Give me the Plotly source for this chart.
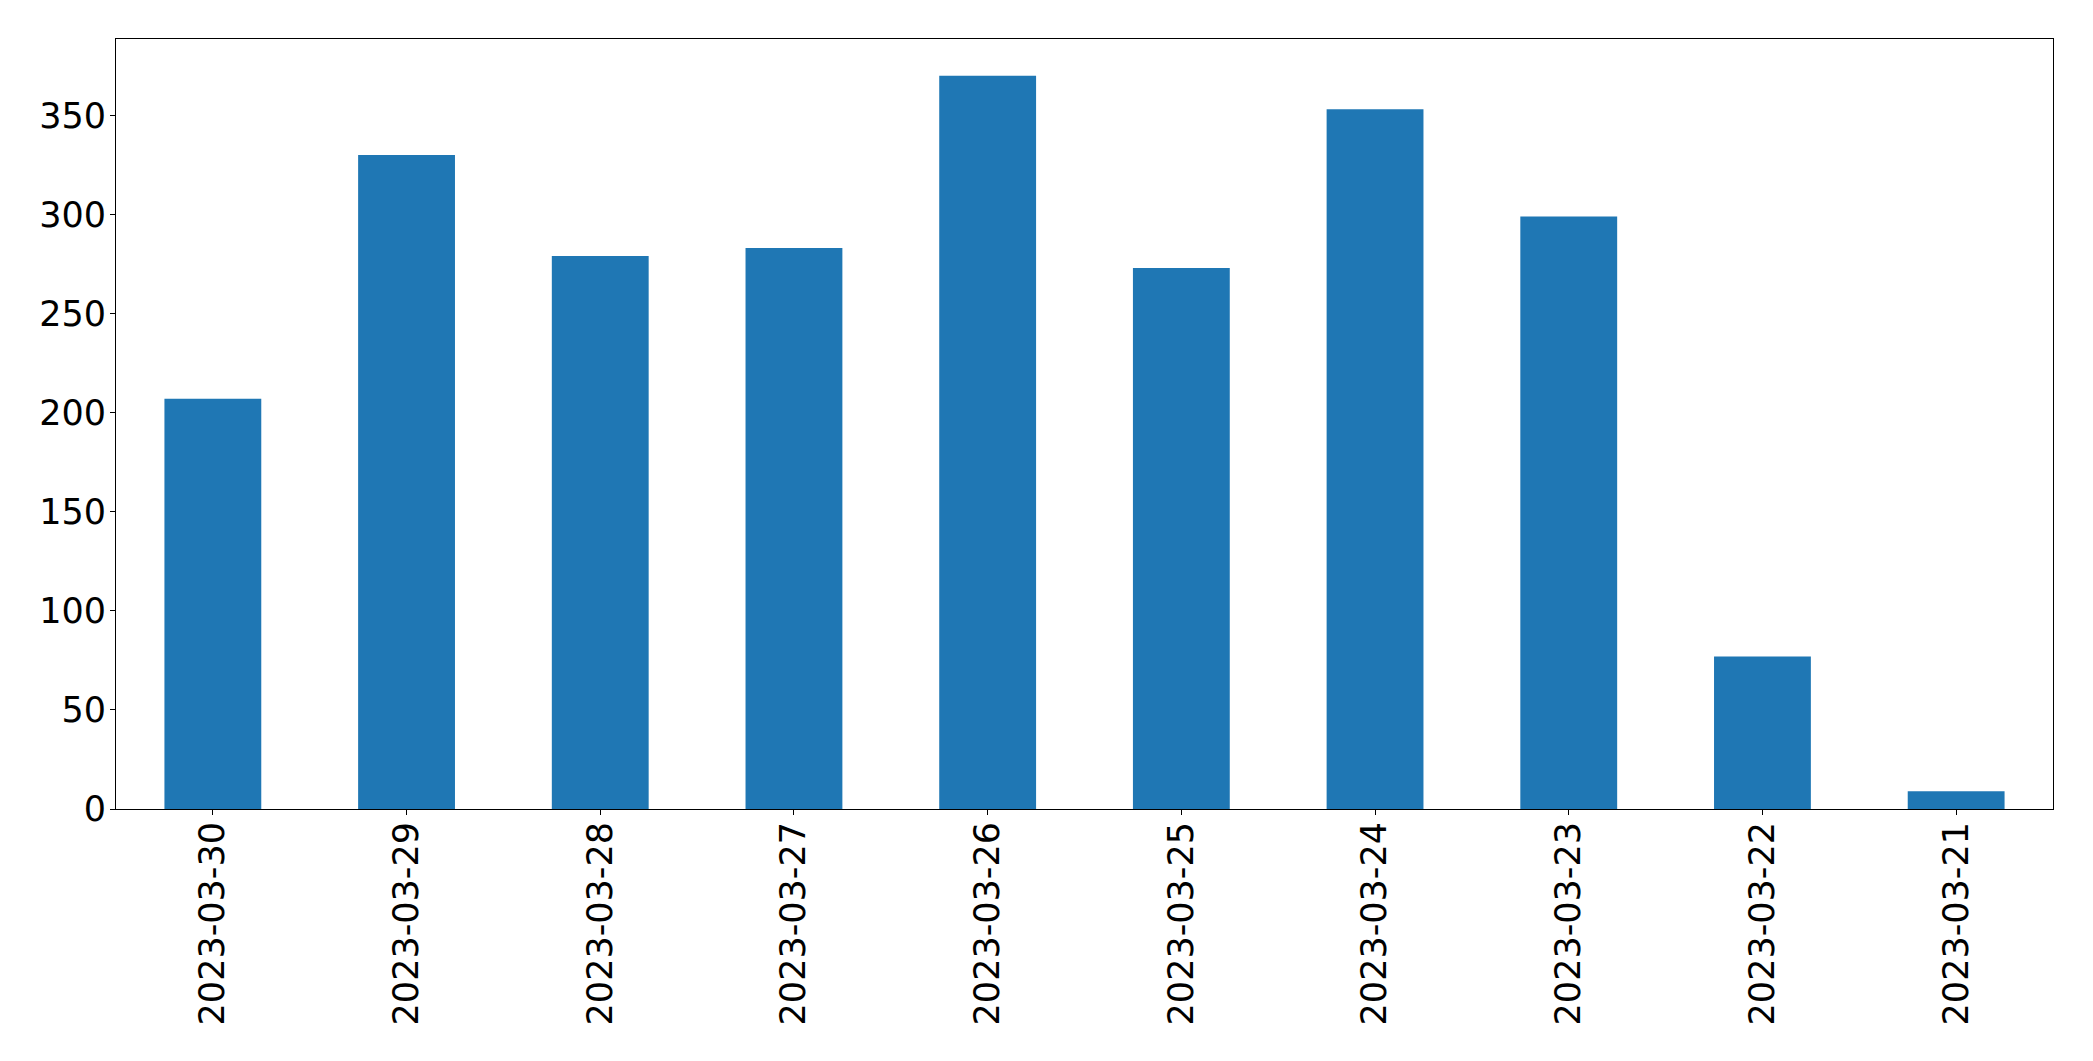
import plotly.graph_objects as go

dates = ["2023-03-30", "2023-03-29", "2023-03-28", "2023-03-27", "2023-03-26",
         "2023-03-25", "2023-03-24", "2023-03-23", "2023-03-22", "2023-03-21"]
counts = [207, 330, 279, 283, 370, 273, 353, 299, 77, 9]
y_ticks = [0, 50, 100, 150, 200, 250, 300, 350]

fig = go.Figure(go.Bar(x=dates, y=counts, width=0.5, marker=dict(color="#1f77b4", line=dict(width=0))))

font = dict(family="DejaVu Sans", size=35, color="black")
fig.update_layout(
    width=2085, height=1053,
    margin=dict(l=108, r=40, t=31, b=252, pad=0),
    paper_bgcolor="white", plot_bgcolor="white",
    showlegend=False,
    font=font,
)
fig.update_xaxes(
    type="category", range=[-0.5, len(dates) - 0.5],
    tickangle=-90, ticks="outside", ticklen=5, tickcolor="black", tickwidth=1,
    showline=True, linecolor="black", linewidth=1, mirror=True,
    showgrid=False, zeroline=False, tickfont=font, ticklabelstandoff=-7,
)
fig.update_yaxes(
    range=[0, 388.5], tickvals=y_ticks, ticktext=[str(v) for v in y_ticks],
    ticks="outside", ticklen=5, tickcolor="black", tickwidth=1,
    showline=True, linecolor="black", linewidth=1, mirror=True,
    showgrid=False, zeroline=False, tickfont=font, ticklabelstandoff=-3,
)
fig.write_html("out.html")
